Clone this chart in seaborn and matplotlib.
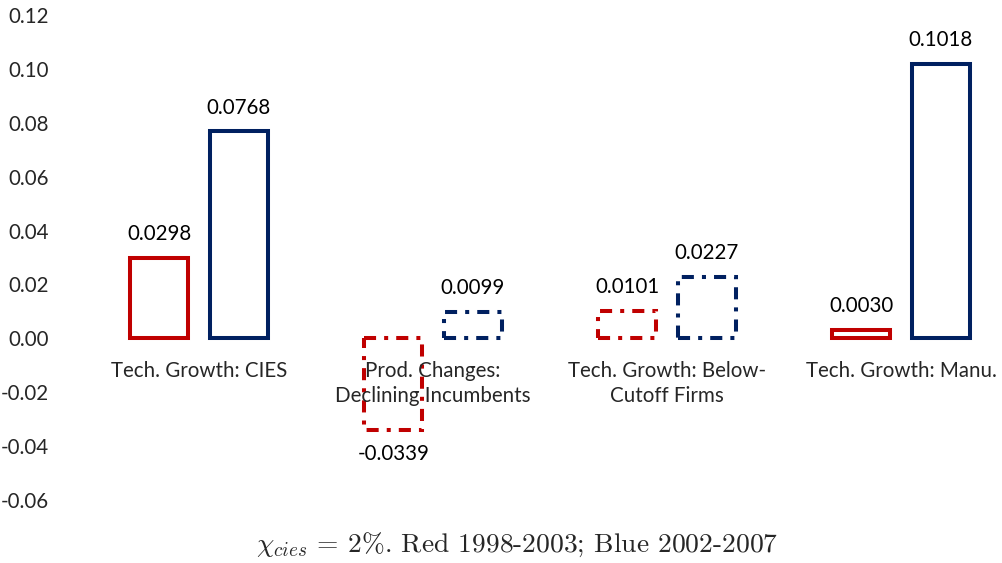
import pandas as pd
import matplotlib
matplotlib.use("Agg")
import matplotlib.pyplot as plt
import seaborn as sns

categories = ["Tech. Growth: CIES", "Prod. Changes:\nDeclining Incumbents",
              "Tech. Growth: Below-\nCutoff Firms", "Tech. Growth: Manu."]
periods = ["1998-2003", "2002-2007"]
red_vals = [0.0298, -0.0339, 0.0101, 0.0030]
blue_vals = [0.0768, 0.0099, 0.0227, 0.1018]
dashed_cats = [1, 2]
y_ticks = [-0.06, -0.04, -0.02, 0.00, 0.02, 0.04, 0.06, 0.08, 0.10, 0.12]

colors = {"1998-2003": "#C00000", "2002-2007": "#002060"}

sns.set_theme(style="white")
plt.rcParams["font.family"] = ["Lato", "DejaVu Sans"]
plt.rcParams["axes.unicode_minus"] = False
plt.rcParams["mathtext.fontset"] = "cm"

df = pd.DataFrame({
    "category": categories * 2,
    "period": [periods[0]] * 4 + [periods[1]] * 4,
    "value": red_vals + blue_vals,
})

fig = plt.figure(figsize=(10.03, 5.63), dpi=100)
ax = fig.add_axes([82 / 1003, 63 / 563, (1003 - 82) / 1003, 485 / 563])

sns.barplot(data=df, x="category", y="value", hue="period", order=categories,
            hue_order=periods, width=0.676, gap=0.266, fill=False,
            palette=colors, linewidth=2.9, legend=False, ax=ax)

# dash-dot outline for the middle two groups
for p in ax.patches:
    cx = p.get_x() + p.get_width() / 2
    p.set_joinstyle("miter")
    p.set_capstyle("butt")
    if round(cx) in dashed_cats:
        p.set_linestyle((0, (3, 2, 1, 2)))

fs = 14.8
# value labels
for hue_i, vals in enumerate([red_vals, blue_vals]):
    for i, v in enumerate(vals):
        x = i + (-0.169 if hue_i == 0 else 0.169)
        off = 10 if v >= 0 else -10
        ax.annotate(f"{v:.4f}", (x, v), xytext=(0, off), textcoords="offset points",
                    ha="center", va="bottom" if v >= 0 else "top", fontsize=fs,
                    color="black")

# category labels sit just under the zero line
for i, cat in enumerate(categories):
    ax.annotate(cat, (i, 0), xytext=(0, -16), textcoords="offset points",
                ha="center", va="top", fontsize=fs, linespacing=1.36)

ax.set_xlim(-0.5, -0.5 + 921 / 234)
ax.set_ylim(-0.06, 0.12)
ax.set_yticks(y_ticks)
ax.set_yticklabels([f"{t:.2f}" for t in y_ticks], fontsize=fs)
ax.tick_params(axis="y", length=0, pad=24)
ax.set_xticks([])
for s in ax.spines.values():
    s.set_visible(False)
ax.set_xlabel("")
ax.set_ylabel("")
ax.grid(False)

fig.text(517 / 1003, 1 - 545 / 563, r"$\chi_{cies}$ = 2%. Red 1998-2003; Blue 2002-2007",
         ha="center", va="center", fontsize=19.8, family="cmr10")

fig.savefig("out.png", dpi=100)
